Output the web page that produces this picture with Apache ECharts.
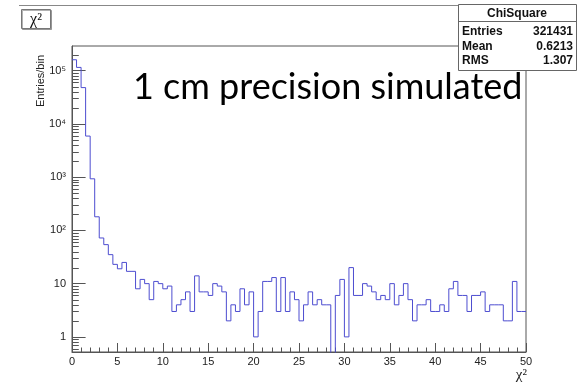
<!DOCTYPE html>
<html><head><meta charset="utf-8">
<script src="https://cdn.jsdelivr.net/npm/echarts@6/dist/echarts.min.js"></script>
<style>html,body{margin:0;padding:0;background:#fff}#c{width:577px;height:382px}</style>
</head><body><div id="c"></div>
<script>
// Histogram structure
const xMin = 0, xMax = 50, nBins = 100;
const xTicks = [0, 5, 10, 15, 20, 25, 30, 35, 40, 45, 50];
const yMin = 0.52, yMax = 2.9e5;
// Entries per bin
const counts = [
  160000, 115000, 48000, 5900, 930, 180, 72, 54, 35, 23,
  19, 25, 17, 17, 8, 12, 10, 5, 11, 10,
  8, 9, 3, 4, 5, 7, 3, 14, 7, 7,
  6, 10, 9, 7, 2, 4, 3, 8, 4, 7,
  1, 3, 11, 11, 13, 3, 13, 3, 7, 5,
  2, 4, 7, 4, 5, 4, 4, 0, 6, 12,
  1, 20, 6, 6, 10, 9, 7, 5, 6, 5,
  10, 4, 6, 10, 5, 2, 4, 4, 5, 3,
  3, 4, 3, 8, 11, 6, 6, 3, 6, 6,
  7, 3, 4, 4, 4, 2, 2, 11, 3, 3
];
const statsTitle = 'ChiSquare';
const statsNames = ['Entries', 'Mean', 'RMS'];
const statsValues = ['321431', '0.6213', '1.307'];
const histTitle = 'χ²';
const xTitle = 'χ²';
const yTitle = 'Entries/bin';
const note = '1 cm precision simulated';

const binW = (xMax - xMin) / nBins;
const zeroFloor = yMin / 100;
const lineData = counts.map((c, i) => [xMin + i * binW, c > 0 ? c : zeroFloor]);
lineData.push([xMax, counts[counts.length - 1] > 0 ? counts[counts.length - 1] : zeroFloor]);

const minorVals = [];
for (let e = -1; e <= 6; e++) for (let m = 2; m <= 9; m++) {
  const v = m * Math.pow(10, e);
  if (v > yMin && v < yMax) minorVals.push([xMin, v]);
}
const sup = ['⁰','¹','²','³','⁴','⁵','⁶','⁷','⁸','⁹'];

const chart = echarts.init(document.getElementById('c'), null, {renderer: 'canvas'});
const font = 'Liberation Sans';
const boxX = 458, boxY = 4.5, boxW = 118, boxH = 66;
const graphic = [
  {type: 'line', z: 50, shape: {x1: 19, y1: 5.5, x2: 577, y2: 5.5}, style: {stroke: '#888', lineWidth: 1}},
  {type: 'rect', z: 50, shape: {x: 21.5, y: 9.5, width: 29, height: 19}, style: {fill: '#fff', stroke: '#777', lineWidth: 1, shadowColor: 'rgba(0,0,0,0.3)', shadowOffsetX: 1, shadowOffsetY: 1}},
  {type: 'text', z: 51, x: 36, y: 19.5, style: {text: histTitle, font: '16px "Liberation Serif"', fill: '#111', align: 'center', verticalAlign: 'middle'}},
  {type: 'rect', z: 60, shape: {x: boxX + 0.5, y: boxY, width: boxW, height: boxH}, style: {fill: '#fff', stroke: '#666', lineWidth: 1}},
  {type: 'line', z: 61, shape: {x1: boxX, y1: 21.5, x2: boxX + boxW + 1, y2: 21.5}, style: {stroke: '#666', lineWidth: 1}},
  {type: 'text', z: 61, x: boxX + boxW / 2, y: 13.5, style: {text: statsTitle, font: 'bold 12px "Liberation Sans"', fill: '#111', align: 'center', verticalAlign: 'middle'}},
  {type: 'text', z: 40, x: 133, y: 87, style: {text: note, font: '36px Lato', fill: '#000', align: 'left', verticalAlign: 'middle'}},
  {type: 'text', z: 40, x: 41, y: 55, rotation: Math.PI / 2, style: {text: yTitle, font: '11px "Liberation Sans"', fill: '#222', align: 'right', verticalAlign: 'middle'}},
  {type: 'text', z: 40, x: 527, y: 375, style: {text: xTitle, font: '15px "Liberation Serif"', fill: '#222', align: 'right', verticalAlign: 'middle'}}
];
statsNames.forEach((n, i) => {
  const y = 32 + i * 14.5;
  graphic.push({type: 'text', z: 61, x: boxX + 4, y: y, style: {text: n, font: 'bold 12px "Liberation Sans"', fill: '#111', align: 'left', verticalAlign: 'middle'}});
  graphic.push({type: 'text', z: 61, x: boxX + boxW - 3, y: y, style: {text: statsValues[i], font: 'bold 12px "Liberation Sans"', fill: '#111', align: 'right', verticalAlign: 'middle'}});
});

chart.setOption({
  animation: false,
  backgroundColor: '#fff',
  grid: {left: 72, right: 51, top: 46, bottom: 30, show: true, borderColor: '#555', borderWidth: 1, containLabel: false},
  xAxis: {
    type: 'value', min: xMin, max: xMax, interval: 5,
    axisLine: {show: true, onZero: false, lineStyle: {color: '#555', width: 1}},
    axisTick: {show: true, inside: true, length: 9, lineStyle: {color: '#555'}},
    minorTick: {show: true, splitNumber: 5, length: 4.5, lineStyle: {color: '#555'}},
    splitLine: {show: false},
    axisLabel: {margin: 4, fontSize: 11, color: '#222', fontFamily: font,
      formatter: v => xTicks.indexOf(v) >= 0 ? String(v) : ''}
  },
  yAxis: {
    type: 'log', logBase: 10, min: yMin, max: yMax,
    axisLine: {show: true, onZero: false, lineStyle: {color: '#555', width: 1}},
    axisTick: {show: true, inside: true, length: 13.6, lineStyle: {color: '#555'}},
    splitLine: {show: false},
    axisLabel: {margin: 6, fontSize: 11, color: '#222', fontFamily: font, showMinLabel: false, showMaxLabel: false,
      formatter: v => {
        const e = Math.round(Math.log10(v));
        if (Math.abs(Math.log10(v) - e) > 1e-6) return '';
        if (e === 0) return '1';
        if (e === 1) return '10';
        return '10' + sup[e];
      }}
  },
  series: [
    {type: 'line', step: 'end', data: lineData, showSymbol: false, symbol: 'none', clip: true,
     lineStyle: {color: '#4d4dd0', width: 1}, silent: true},
    {type: 'custom', data: minorVals, silent: true, clip: true,
     renderItem: (params, api) => {
       const p = api.coord([api.value(0), api.value(1)]);
       const y = Math.round(p[1]) + 0.5;
       return {type: 'line', shape: {x1: p[0], y1: y, x2: p[0] + 6.8, y2: y}, style: {stroke: '#555', lineWidth: 1}};
     }}
  ],
  graphic: graphic
});
</script></body></html>
